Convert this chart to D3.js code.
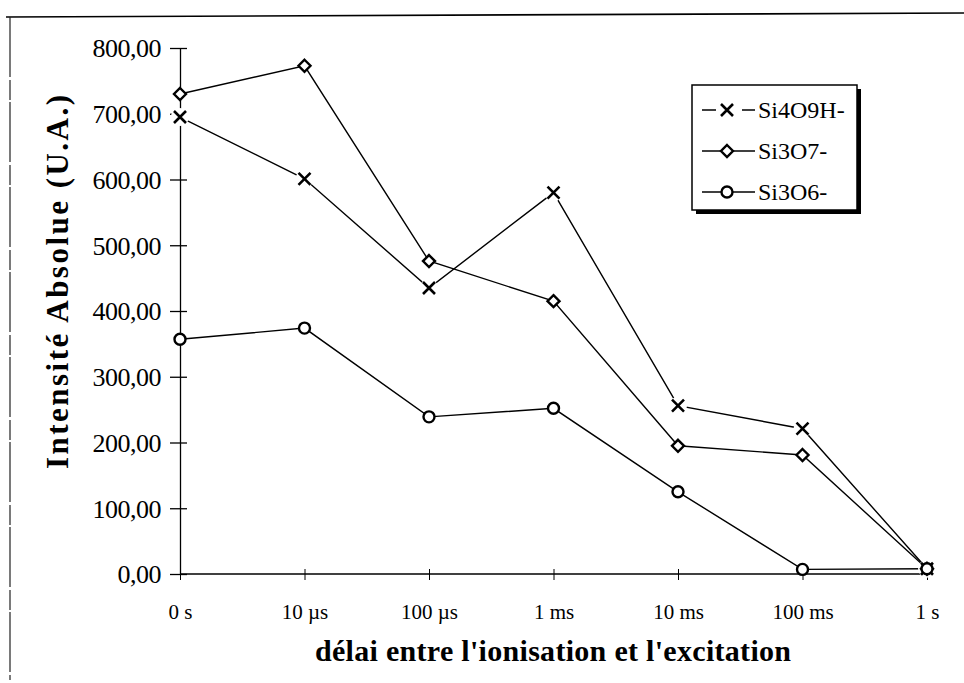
<!DOCTYPE html>
<html>
<head>
<meta charset="utf-8">
<script src="https://cdn.jsdelivr.net/npm/d3@7"></script>
<style>
  body { margin: 0; background: #fff; }
  svg { display: block; }
  text { font-family: "Liberation Serif", "Times New Roman", serif; }
</style>
</head>
<body>
<svg id="canvas" width="964" height="683"></svg>
<script>
'use strict';

// categories on the x axis (delay between ionisation and excitation)
var delays = ['0 s', '10 µs', '100 µs', '1 ms', '10 ms', '100 ms', '1 s'];
// series values
var si4o9h = [695, 601, 435, 580, 256, 221, 8];
var si3o7 = [730, 773, 476, 415, 195, 181, 8];
var si3o6 = [357, 374, 239, 252, 125, 7, 8];
var yTicks = [0, 100, 200, 300, 400, 500, 600, 700, 800];

var series = [
  {name: 'Si4O9H-', values: si4o9h, marker: 'cross'},
  {name: 'Si3O7-', values: si3o7, marker: 'diamond'},
  {name: 'Si3O6-', values: si3o6, marker: 'circle'}
];

var serif = '"Liberation Serif", "Times New Roman", serif';
var margin = {top: 48, right: 37, bottom: 109, left: 180};
var width = 964, height = 683;

var svg = d3.select('svg#canvas');

/* frame of the scanned page */
svg.append('line')
  .attr('x1', 6).attr('y1', 17).attr('x2', 964).attr('y2', 13)
  .attr('stroke', '#000').attr('stroke-width', 1.6);
svg.append('line')
  .attr('x1', 10).attr('y1', 17).attr('x2', 10).attr('y2', 680)
  .attr('stroke', '#222').attr('stroke-width', 1.2)
  .attr('stroke-dasharray', '60,3,20,2');

var x = d3.scalePoint()
  .domain(delays)
  .range([margin.left, width - margin.right]);

var y = d3.scaleLinear()
  .domain([0, 800])
  .range([height - margin.bottom, margin.top]);

/* y axis: ticks cross the axis line */
var yAxis = d3.axisLeft(y)
  .tickValues(yTicks)
  .tickSizeInner(10).tickSizeOuter(0)
  .tickPadding(4)
  .tickFormat(function(d){ return d3.format('.2f')(d).replace('.', ','); });

var gy = svg.append('g')
  .attr('transform', 'translate(' + margin.left + ',0)')
  .call(yAxis)
  .attr('font-family', serif).attr('font-size', 26);
gy.select('.domain').attr('stroke-width', 1.3);
gy.selectAll('.tick line').attr('x2', 7).attr('x1', -10).attr('stroke-width', 1.3);
gy.selectAll('.tick text')
  .attr('x', -19).attr('dy', '0.34em')
  .attr('letter-spacing', -0.5)
  .attr('fill', '#000');

/* x axis */
var xAxis = d3.axisBottom(x).tickSizeInner(0).tickSizeOuter(0).tickPadding(30);
var gx = svg.append('g')
  .attr('transform', 'translate(0,' + y(0) + ')')
  .call(xAxis)
  .attr('font-family', serif).attr('font-size', 21);
gx.select('.domain').attr('stroke-width', 1.3)
  .attr('d', 'M' + margin.left + ',0H' + x('1 s'));
gx.selectAll('.tick line').attr('y1', -5).attr('y2', 6).attr('stroke-width', 1);
gx.selectAll('.tick text').attr('fill', '#000');

/* axis titles */
svg.append('text')
  .attr('x', 553).attr('y', 661)
  .attr('text-anchor', 'middle')
  .attr('font-family', serif)
  .attr('font-size', 30).attr('font-weight', 'bold')
  .attr('textLength', 476).attr('lengthAdjust', 'spacing')
  .text("délai entre l'ionisation et l'excitation");

svg.append('text')
  .attr('transform', 'translate(68,282) rotate(-90)')
  .attr('text-anchor', 'middle')
  .attr('font-family', serif)
  .attr('font-size', 31).attr('font-weight', 'bold')
  .attr('textLength', 374).attr('lengthAdjust', 'spacing')
  .text('Intensité Absolue (U.A.)');

/* marker drawing helper */
function drawMarker(g, type, cx, cy){
  if (type === 'cross') {
    g.append('path')
      .attr('d', 'M' + (cx-6) + ',' + (cy-6) + 'L' + (cx+6) + ',' + (cy+6) +
                 'M' + (cx+6) + ',' + (cy-6) + 'L' + (cx-6) + ',' + (cy+6))
      .attr('stroke', '#000').attr('stroke-width', 2.6).attr('fill', 'none');
  } else if (type === 'diamond') {
    g.append('path')
      .attr('d', 'M' + cx + ',' + (cy-6) + 'L' + (cx+6) + ',' + cy +
                 'L' + cx + ',' + (cy+6) + 'L' + (cx-6) + ',' + cy + 'Z')
      .attr('stroke', '#000').attr('stroke-width', 2.4).attr('fill', '#fff');
  } else {
    g.append('circle')
      .attr('cx', cx).attr('cy', cy).attr('r', 5.5)
      .attr('stroke', '#000').attr('stroke-width', 2.4).attr('fill', '#fff');
  }
}

var line = d3.line()
  .x(function(d, i){ return x(delays[i]); })
  .y(function(d){ return y(d); });

series.forEach(function(s){
  svg.append('path')
    .datum(s.values)
    .attr('d', line)
    .attr('fill', 'none')
    .attr('stroke', '#000')
    .attr('stroke-width', 1.4);
});
series.forEach(function(s){
  var g = svg.append('g');
  s.values.forEach(function(v, i){
    if (s.marker === 'cross') {
      /* white halo so the line stops short of the cross */
      g.append('circle').attr('cx', x(delays[i])).attr('cy', y(v)).attr('r', 9).attr('fill', '#fff');
    }
    drawMarker(g, s.marker, x(delays[i]), y(v));
  });
});

/* legend */
var lx = 692, ly = 85, lw = 165, lh = 125;
var legend = svg.append('g');
legend.append('rect')
  .attr('x', lx + 4).attr('y', ly + 4).attr('width', lw).attr('height', lh)
  .attr('fill', '#000');
legend.append('rect')
  .attr('x', lx).attr('y', ly).attr('width', lw).attr('height', lh)
  .attr('fill', '#fff').attr('stroke', '#000').attr('stroke-width', 1.5);

series.forEach(function(s, i){
  var cy = ly + 25 + i * 41;
  var row = legend.append('g');
  row.append('line')
    .attr('x1', lx + 10).attr('x2', lx + 63).attr('y1', cy).attr('y2', cy)
    .attr('stroke', '#000').attr('stroke-width', 1.5)
    .attr('stroke-dasharray', s.marker === 'cross' ? '14,26,13' : null);
  drawMarker(row, s.marker, lx + 35, cy);
  row.append('text')
    .attr('x', lx + 66).attr('y', cy + 8)
    .attr('font-family', serif)
    .attr('font-size', 24)
    .text(s.name);
});
</script>
</body>
</html>
